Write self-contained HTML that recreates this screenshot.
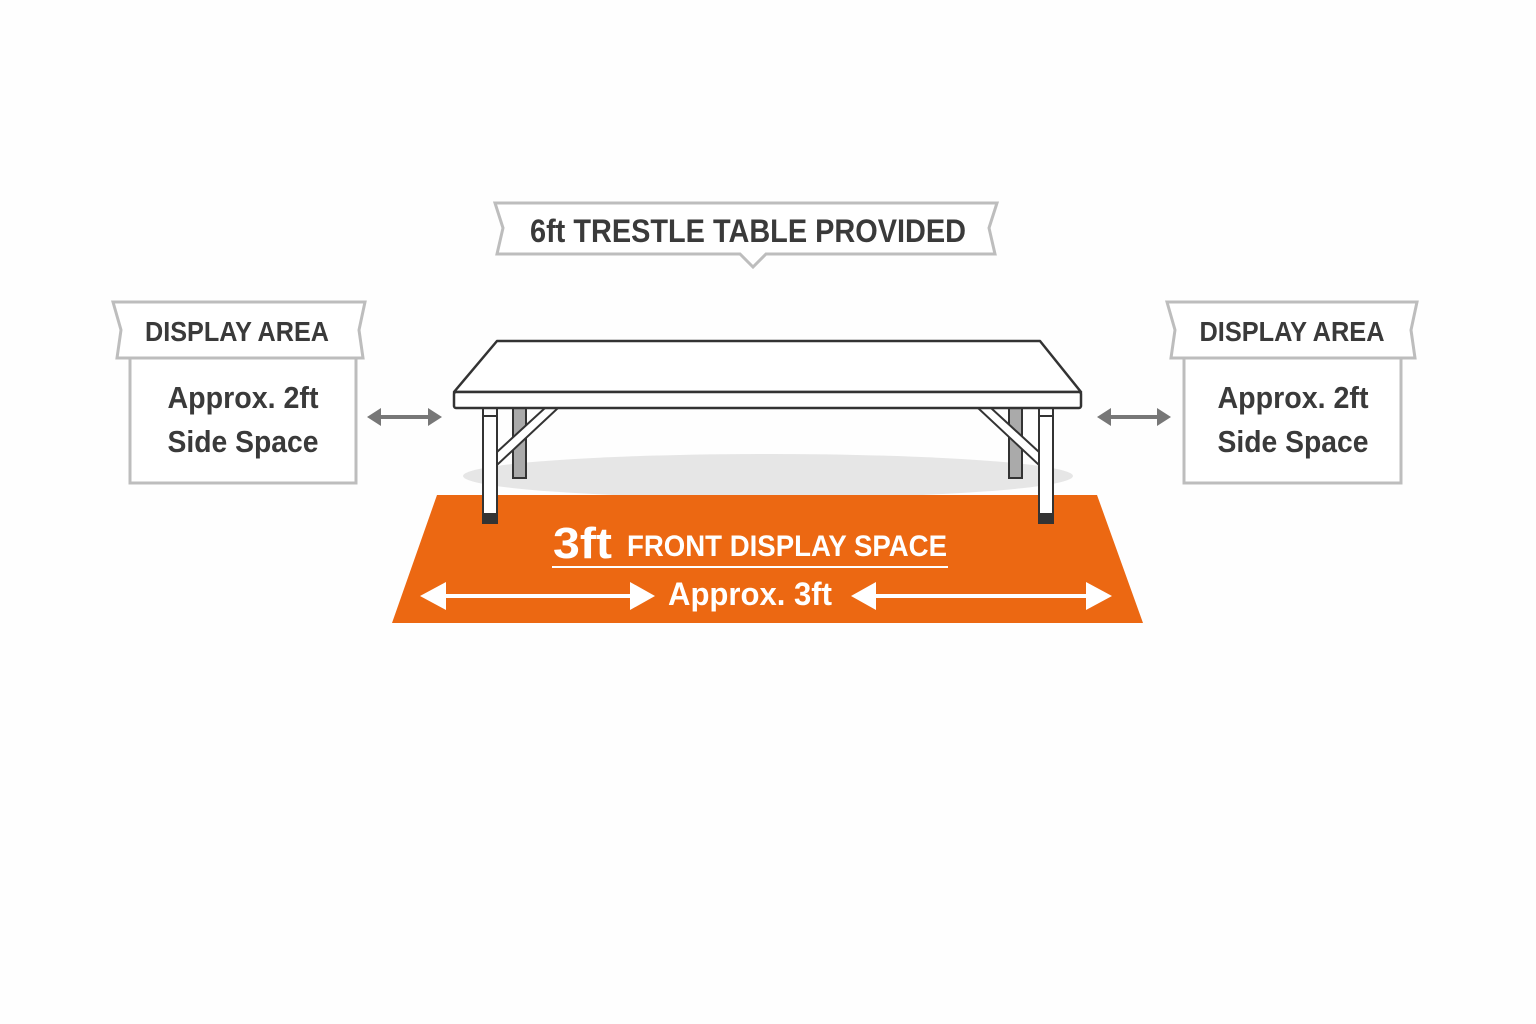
<!DOCTYPE html>
<html><head><meta charset="utf-8"><style>
html,body{margin:0;padding:0;background:#fefefe;}
svg{display:block}
text{font-family:"Liberation Sans",sans-serif;font-weight:bold;}
</style></head><body>
<svg width="1536" height="1024" viewBox="0 0 1536 1024" xmlns="http://www.w3.org/2000/svg">
<rect width="1536" height="1024" fill="#fefefe"/>
<!-- top banner -->
<polygon points="495,203 997,203 989,228 995,254 766,254 753,267 740,254 497,254 503,228" fill="#fff" stroke="#bdbdbd" stroke-width="3"/>
<text x="748" y="242" font-size="32" fill="#3a3a3a" text-anchor="middle" textLength="436" lengthAdjust="spacingAndGlyphs">6ft TRESTLE TABLE PROVIDED</text>

<!-- left display -->
<rect x="130" y="357" width="226" height="126" fill="#fff" stroke="#bdbdbd" stroke-width="3"/>
<polygon points="113,302 365,302 359,330 363,358 117,358 121,330" fill="#fff" stroke="#bdbdbd" stroke-width="3"/>
<text x="237" y="341" font-size="28" fill="#3a3a3a" text-anchor="middle" textLength="184" lengthAdjust="spacingAndGlyphs">DISPLAY AREA</text>
<text x="243" y="408" font-size="31" fill="#3a3a3a" text-anchor="middle" textLength="151" lengthAdjust="spacingAndGlyphs">Approx. 2ft</text>
<text x="243" y="452" font-size="31" fill="#3a3a3a" text-anchor="middle" textLength="151" lengthAdjust="spacingAndGlyphs">Side Space</text>
<line x1="375" y1="417" x2="434" y2="417" stroke="#777" stroke-width="4"/>
<polygon points="367,417 381,408 381,426" fill="#777"/><polygon points="442,417 428,408 428,426" fill="#777"/>

<!-- right display -->
<rect x="1184" y="357" width="217" height="126" fill="#fff" stroke="#bdbdbd" stroke-width="3"/>
<polygon points="1167,302 1417,302 1411,330 1415,358 1171,358 1175,330" fill="#fff" stroke="#bdbdbd" stroke-width="3"/>
<text x="1292" y="341" font-size="28" fill="#3a3a3a" text-anchor="middle" textLength="185" lengthAdjust="spacingAndGlyphs">DISPLAY AREA</text>
<text x="1293" y="408" font-size="31" fill="#3a3a3a" text-anchor="middle" textLength="151" lengthAdjust="spacingAndGlyphs">Approx. 2ft</text>
<text x="1293" y="452" font-size="31" fill="#3a3a3a" text-anchor="middle" textLength="151" lengthAdjust="spacingAndGlyphs">Side Space</text>
<line x1="1105" y1="417" x2="1163" y2="417" stroke="#777" stroke-width="4"/>
<polygon points="1097,417 1111,408 1111,426" fill="#777"/><polygon points="1171,417 1157,408 1157,426" fill="#777"/>

<!-- shadow -->
<ellipse cx="768" cy="476" rx="305" ry="22" fill="#e6e6e6"/>
<!-- orange floor -->
<polygon points="437,495 1097,495 1143,623 392,623" fill="#ec6812"/>

<!-- back legs -->
<rect x="513" y="408" width="13" height="70" fill="#aaa" stroke="#333" stroke-width="2"/>
<rect x="1009" y="408" width="13" height="70" fill="#aaa" stroke="#333" stroke-width="2"/>
<!-- braces -->
<polygon points="497,452 545,408 558,408 497,465" fill="#fff" stroke="#333" stroke-width="2"/>
<polygon points="1039,452 991,408 978,408 1039,465" fill="#fff" stroke="#333" stroke-width="2"/>
<!-- front legs -->
<rect x="483" y="408" width="14" height="115" fill="#fff" stroke="#333" stroke-width="2"/>
<rect x="483" y="513" width="14" height="10" fill="#333"/>
<line x1="483" y1="416" x2="497" y2="416" stroke="#333" stroke-width="2"/>
<rect x="1039" y="408" width="14" height="115" fill="#fff" stroke="#333" stroke-width="2"/>
<rect x="1039" y="513" width="14" height="10" fill="#333"/>
<line x1="1039" y1="416" x2="1053" y2="416" stroke="#333" stroke-width="2"/>
<!-- table top -->
<polygon points="454,392 497,341 1040,341 1081,392" fill="#fff" stroke="#333" stroke-width="2.5" stroke-linejoin="round"/>
<rect x="454" y="392" width="627" height="16" fill="#fff" stroke="#333" stroke-width="2.5" rx="2"/>

<!-- floor text -->
<text x="553" y="558" font-size="44" fill="#fff" textLength="59" lengthAdjust="spacingAndGlyphs">3ft</text>
<text x="627" y="556" font-size="30" fill="#fff" textLength="320" lengthAdjust="spacingAndGlyphs">FRONT DISPLAY SPACE</text>
<line x1="552" y1="567" x2="948" y2="567" stroke="#fff" stroke-width="2"/>
<line x1="435" y1="596" x2="640" y2="596" stroke="#fff" stroke-width="4"/>
<polygon points="420,596 446,582 446,610" fill="#fff"/><polygon points="655,596 630,582 630,610" fill="#fff"/>
<text x="750" y="605" font-size="32" fill="#fff" text-anchor="middle" textLength="164" lengthAdjust="spacingAndGlyphs">Approx. 3ft</text>
<line x1="866" y1="596" x2="1097" y2="596" stroke="#fff" stroke-width="4"/>
<polygon points="851,596 876,582 876,610" fill="#fff"/><polygon points="1112,596 1086,582 1086,610" fill="#fff"/>
</svg>
</body></html>
